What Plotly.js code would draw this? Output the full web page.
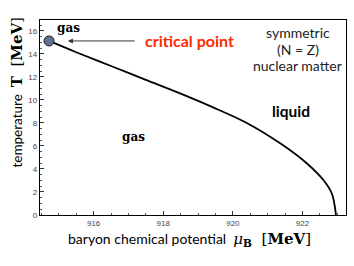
<!DOCTYPE html>
<html><head><meta charset="utf-8">
<script src="https://cdn.plot.ly/plotly-3.0.1.min.js"></script>
<style>html,body{margin:0;padding:0;background:#fff}#c{width:354px;height:266px}</style>
</head><body><div id="c"></div>
<script>
const muB = [914.72, 915.5, 916.5, 917.5, 918.5, 919.4, 920.4, 921.36, 922.12, 922.6, 922.84, 922.93, 922.96];
const temp = [15.13, 14.15, 12.95, 11.75, 10.55, 9.4, 8.0, 6.23, 4.5, 3.04, 1.89, 0.72, 0.0];
const critMu = [914.72];
const critT = [15.13];
const xTicks = [916, 918, 920, 922];
const yTicks = [0, 2, 4, 6, 8, 10, 12, 14, 16];

const serif = "'DejaVu Serif', 'Liberation Serif', serif";
const sans = "Lato, 'Open Sans', sans-serif";
const serifSpan = "<span style=\"font-family:'DejaVu Serif';font-size:14px\">";

const traces = [
  {x: muB, y: temp, mode: 'lines', line: {color: '#000', width: 1.8, shape: 'spline'}, hoverinfo: 'skip'},
  {x: critMu, y: critT, mode: 'markers', marker: {size: 10, color: '#5d7391', line: {color: '#1a1a1a', width: 1}}, hoverinfo: 'skip'}
];

const layout = {
  width: 354, height: 266,
  margin: {l: 40, r: 8, t: 20, b: 51},
  showlegend: false,
  paper_bgcolor: '#fff', plot_bgcolor: '#fff',
  xaxis: {
    range: [914.46, 923.25], tickvals: xTicks, ticktext: xTicks.map(String),
    ticks: 'inside', ticklen: 4, tickcolor: '#333', tickwidth: 1,
    minor: {dtick: 0.5, ticks: 'inside', ticklen: 2, tickcolor: '#555'},
    showline: true, linecolor: '#000', linewidth: 1.2, mirror: true,
    showgrid: false, zeroline: false,
    tickfont: {family: "'Liberation Sans', Arial, sans-serif", size: 8, color: '#444'}
  },
  yaxis: {
    range: [0, 16.95], tickvals: yTicks, ticktext: yTicks.map(String),
    ticks: 'inside', ticklen: 4, tickcolor: '#333', tickwidth: 1,
    minor: {dtick: 0.5, ticks: 'inside', ticklen: 2, tickcolor: '#555'},
    showline: true, linecolor: '#000', linewidth: 1.2, mirror: true,
    showgrid: false, zeroline: false,
    tickfont: {family: "'Liberation Sans', Arial, sans-serif", size: 8, color: '#444'}
  },
  annotations: [
    {x: 915.26, y: 15.13, ax: 917.22, ay: 15.13, axref: 'x', ayref: 'y', xref: 'x', yref: 'y',
     text: '', showarrow: true, arrowhead: 2, arrowsize: 1, arrowwidth: 1, arrowcolor: '#333'},
    {x: 918.74, y: 15.13, xref: 'x', yref: 'y', text: '<b>critical point</b>', showarrow: false,
     font: {family: sans, size: 16, color: '#ff2a00'}},
    {x: 915.29, y: 16.25, xref: 'x', yref: 'y', text: '<b>gas</b>', showarrow: false,
     font: {family: serif, size: 12, color: '#000'}},
    {x: 917.16, y: 6.75, xref: 'x', yref: 'y', text: '<b>gas</b>', showarrow: false,
     font: {family: serif, size: 12, color: '#000'}},
    {x: 921.67, y: 9.04, xref: 'x', yref: 'y', text: '<b>liquid</b>', showarrow: false,
     font: {family: sans, size: 15.5, color: '#000'}},
    {x: 921.87, y: 15.83, xref: 'x', yref: 'y', text: 'symmetric', showarrow: false,
     font: {family: sans, size: 14, color: '#222'}},
    {x: 921.87, y: 14.35, xref: 'x', yref: 'y', text: '(N = Z)', showarrow: false,
     font: {family: sans, size: 14, color: '#222'}},
    {x: 921.87, y: 13.0, xref: 'x', yref: 'y', text: 'nuclear matter', showarrow: false,
     font: {family: sans, size: 14, color: '#222'}},
    {x: 0.487, y: -0.185, xref: 'paper', yref: 'paper', showarrow: false,
     text: 'baryon chemical potential  ' + serifSpan.replace('14px','15px') + '<i>μ</i><sub><b>B</b></sub>  [<b>MeV</b>]</span>',
     font: {family: sans, size: 14, color: '#000'}},
    {x: -0.11, y: 0.63, xref: 'paper', yref: 'paper', showarrow: false, textangle: -90,
     text: 'temperature  ' + serifSpan.replace('14px','15px') + '<b>T</b>  [<b>MeV</b>]</span>',
     font: {family: sans, size: 13.5, color: '#000'}}
  ]
};

Plotly.newPlot('c', traces, layout, {staticPlot: true, displayModeBar: false});
</script></body></html>
